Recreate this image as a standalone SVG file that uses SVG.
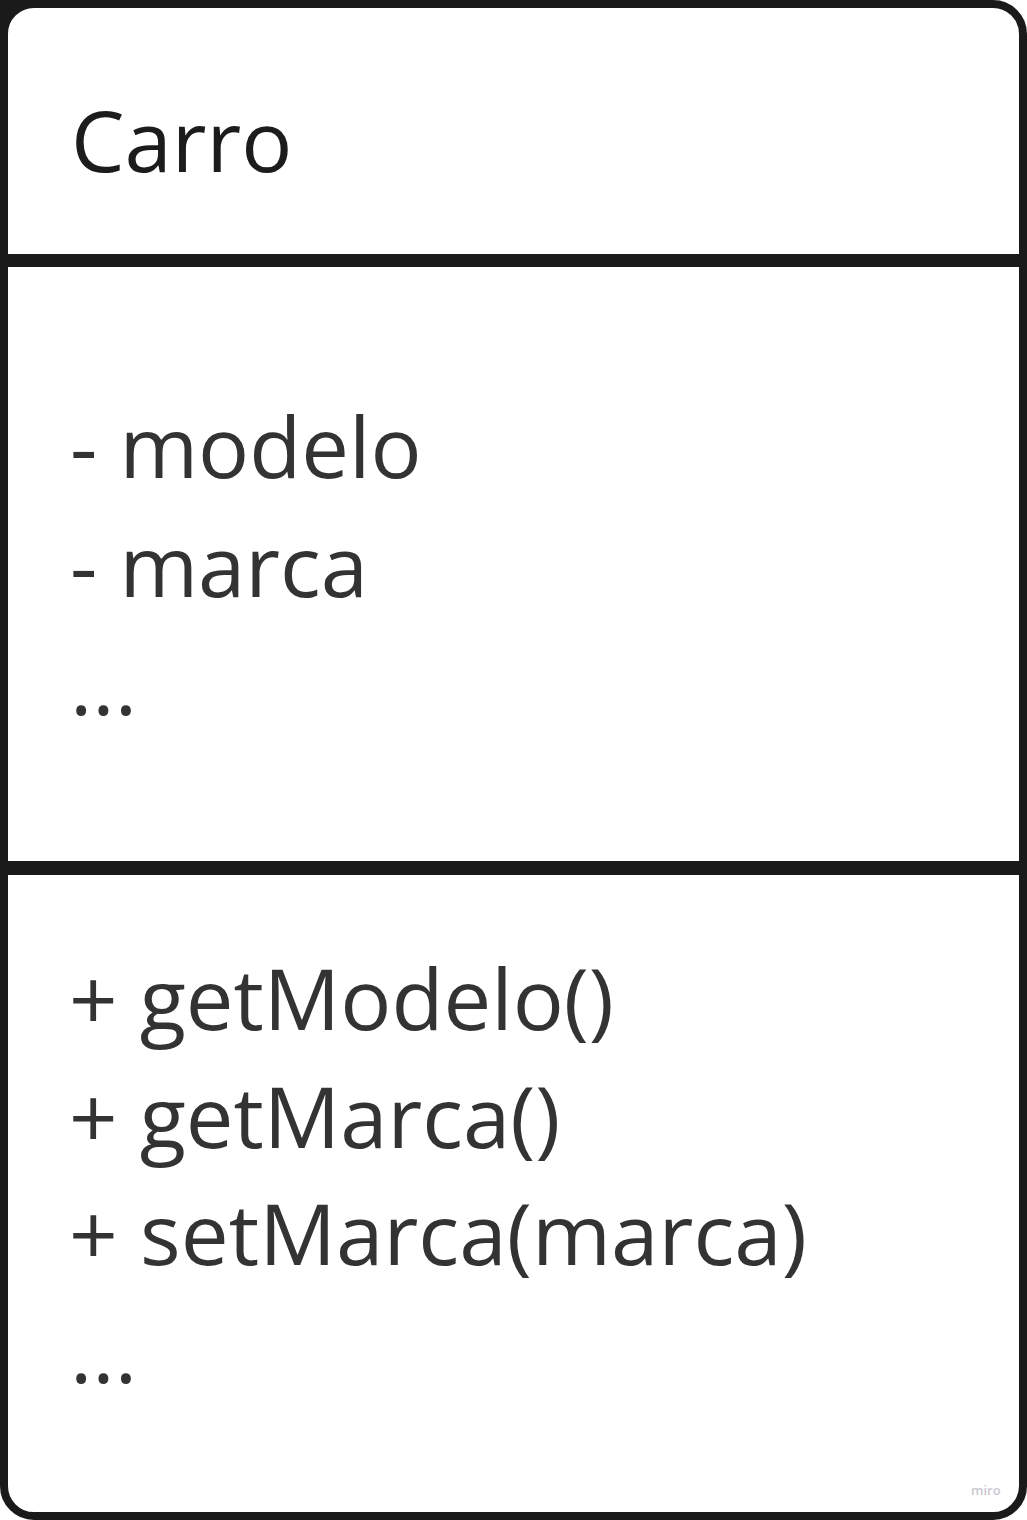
<svg xmlns="http://www.w3.org/2000/svg" width="1027" height="1520" viewBox="0 0 1027 1520">
  <style>
    .frame { fill: #ffffff; stroke: #1a1a1a; stroke-width: 8; }
    .divider { fill: #1a1a1a; }
    .title { font-family: "Open Sans", "Liberation Sans", sans-serif; font-size: 85px; fill: #1c1c1c; }
    .member { font-family: "Open Sans", "Liberation Sans", sans-serif; font-size: 85px; fill: #333333; }
    .wm { font-family: "Open Sans", "Liberation Sans", sans-serif; font-size: 13px; font-weight: 600; fill: #c8c8d4; }
  </style>
  <rect width="1027" height="1520" fill="#ffffff"/>
  <g id="carro">
    <rect x="0" y="0" width="40" height="40" fill="#1a1a1a"/>
    <rect class="frame" x="4" y="4" width="1019" height="1512" rx="30" ry="30"/>
    <rect class="divider" x="0" y="254" width="1027" height="13"/>
    <rect class="divider" x="0" y="861" width="1027" height="14"/>
    <text class="title" x="71" y="172">Carro</text>
    <text class="member" x="70" y="478">- modelo</text>
    <text class="member" x="70" y="597">- marca</text>
    <text class="member" x="70" y="715">...</text>
    <text class="member" x="69" y="1030">+ getModelo()</text>
    <text class="member" x="69" y="1148">+ getMarca()</text>
    <text class="member" x="69" y="1265" textLength="738" lengthAdjust="spacingAndGlyphs">+ setMarca(marca)</text>
    <text class="member" x="70" y="1383">...</text>
  </g>
  <g id="connectors"/>
  <text class="wm" x="971" y="1495">miro</text>
</svg>
